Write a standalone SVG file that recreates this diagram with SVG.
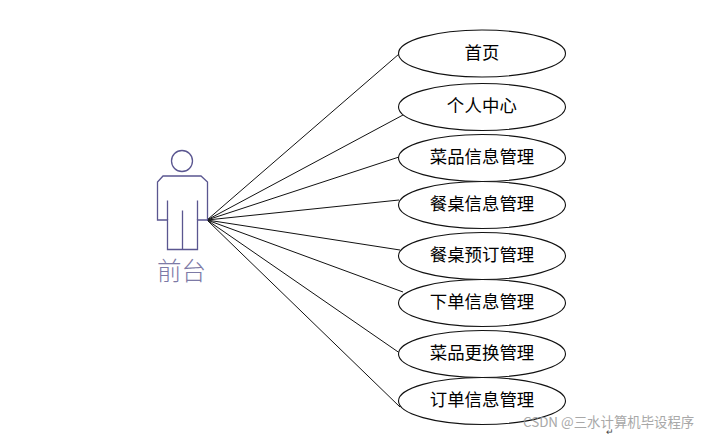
<svg xmlns="http://www.w3.org/2000/svg" width="704" height="436" viewBox="0 0 704 436">
<style>
.uc{fill:#fff;stroke:#111;stroke-width:1.1}
.t{font-family:"Noto Sans CJK SC","Liberation Sans",sans-serif;font-size:17.4px;text-anchor:middle;fill:#000}
.a{fill:none;stroke:#5a5690;stroke-width:1.3}
.c line{stroke:#111;stroke-width:1}
</style>
<rect width="704" height="436" fill="#fff"/>
<g id="connectors" class="c">
<line x1="207" y1="220" x2="399" y2="54"/>
<line x1="207" y1="220" x2="403" y2="115"/>
<line x1="207" y1="220" x2="399" y2="157"/>
<line x1="207" y1="220" x2="399" y2="200"/>
<line x1="207" y1="220" x2="400" y2="250"/>
<line x1="207" y1="220" x2="403" y2="292"/>
<line x1="207" y1="220" x2="404" y2="356"/>
<line x1="207" y1="220" x2="400" y2="407"/>
</g>
<g id="actor">
<circle class="a" cx="182" cy="161" r="10.500"/>
<path class="a" d="M163 176H201L207.500 182V220H197.500V249.500H167.500V220H157.500V182Z"/>
<path class="a" d="M167.500 220V200.500M197.500 220V200.500M182.500 249.500V210.500"/>
<text x="181.500" y="280" font-family="'Noto Sans CJK SC',sans-serif" font-size="24.500" font-weight="300" text-anchor="middle" fill="#7d7aa6">前台</text>
</g>
<g id="n1"><ellipse class="uc" cx="482" cy="53.500" rx="83.500" ry="23.500"/><text class="t" x="482" y="59">首页</text></g>
<g id="n2"><ellipse class="uc" cx="482" cy="107" rx="83.500" ry="23.500"/><text class="t" x="482" y="112" letter-spacing=".2">个人中心</text></g>
<g id="n3"><ellipse class="uc" cx="482" cy="158" rx="83.500" ry="23.500"/><text class="t" x="482" y="163">菜品信息管理</text></g>
<g id="n4"><ellipse class="uc" cx="482" cy="205" rx="83.500" ry="23.500"/><text class="t" x="482" y="210">餐桌信息管理</text></g>
<g id="n5"><ellipse class="uc" cx="482" cy="256" rx="83.500" ry="23.500"/><text class="t" x="482" y="261">餐桌预订管理</text></g>
<g id="n6"><ellipse class="uc" cx="482" cy="303" rx="83.500" ry="23.500"/><text class="t" x="482" y="308">下单信息管理</text></g>
<g id="n7"><ellipse class="uc" cx="482" cy="354" rx="83.500" ry="23.500"/><text class="t" x="482" y="359">菜品更换管理</text></g>
<g id="n8"><ellipse class="uc" cx="482" cy="401" rx="83.500" ry="23.500"/><text class="t" x="482" y="406">订单信息管理</text></g>
<text x="523" y="427" font-family="'Noto Sans CJK SC',sans-serif" font-size="13.400" fill="#999" opacity=".85">CSDN @三水计算机毕设程序</text>
<text x="606" y="435" font-family="'Liberation Sans',sans-serif" font-size="9" fill="#444">↵</text>
</svg>
